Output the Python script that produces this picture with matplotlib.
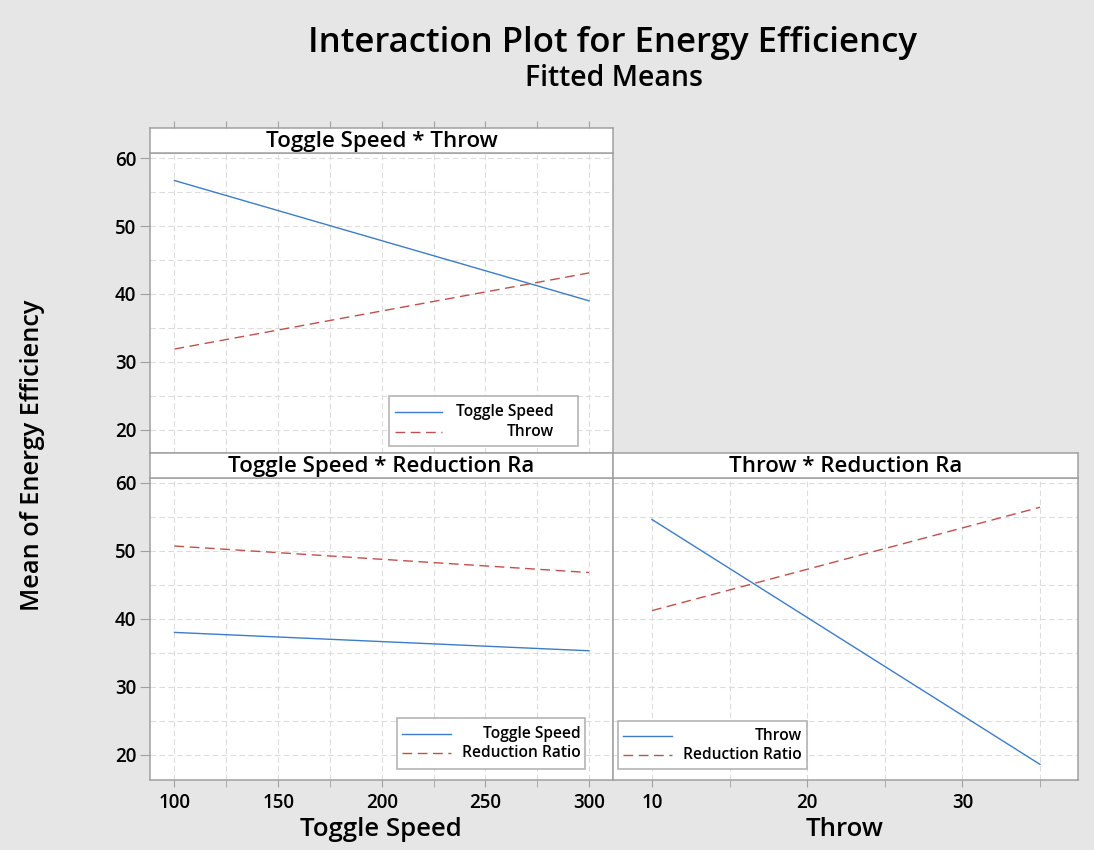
import matplotlib
matplotlib.use('Agg')
from matplotlib import pyplot as plt
from matplotlib.patches import Rectangle
from matplotlib.ticker import MultipleLocator

W, H = 1094, 850

# fitted means (low / high level of the x factor)
speed_levels = [100, 300]
throw_levels = [10, 35]

# Toggle Speed * Throw
ts_speed = [56.7, 39.0]
ts_throw = [31.9, 43.1]

# Toggle Speed * Reduction Ra
tr_speed = [38.0, 35.3]
tr_ratio = [50.7, 46.8]

# Throw * Reduction Ra
hr_throw = [54.6, 18.6]
hr_ratio = [41.2, 56.4]

speed_ticks = [100, 150, 200, 250, 300]
throw_ticks = [10, 20, 30]
y_ticks = [20, 30, 40, 50, 60]

blue = '#3D7CC9'
red = '#C0504D'
edge = '#A0A0A0'
grid_col = '#DCDCDC'
font = 'Open Sans'

plt.rcParams['font.family'] = [font, 'DejaVu Sans']

fig = plt.figure(figsize=(W / 100, H / 100), dpi=100, facecolor='#E6E6E6')


def px_box(x0, y0, x1, y1):
    # reference pixel box -> figure fraction [left, bottom, width, height]
    return [x0 / W, 1 - y1 / H, (x1 - x0) / W, (y1 - y0) / H]


def make_panel(box, strip, title, xlim, ylim, xstep, xmajor, show_y=True, show_x=True):
    ax = fig.add_axes(px_box(*box))
    ax.set_facecolor('white')
    ax.set_xlim(*xlim)
    ax.set_ylim(*ylim)
    ax.set_xticks(xmajor)
    ax.xaxis.set_minor_locator(MultipleLocator(xstep))
    ax.set_yticks(y_ticks)
    ax.yaxis.set_minor_locator(MultipleLocator(5))
    ax.grid(True, which='both', color=grid_col, lw=0.8, ls=(0, (5, 3)))
    ax.set_axisbelow(True)
    for s in ax.spines.values():
        s.set_color(edge)
        s.set_linewidth(1.1)
    ax.tick_params(axis='x', which='both', length=5, color=edge, labelsize=13.5, pad=4)
    ax.tick_params(axis='y', which='major', length=7, color=edge, labelsize=13.5, pad=3)
    ax.tick_params(axis='y', which='minor', length=0)
    for lab in ax.get_xticklabels() + ax.get_yticklabels():
        lab.set_fontweight('semibold')
    if not show_y:
        ax.tick_params(axis='y', which='both', length=0, labelleft=False)
    if not show_x:
        ax.tick_params(axis='x', which='both', labelbottom=False, length=0)

    sax = fig.add_axes(px_box(*strip))
    sax.set_facecolor('white')
    sax.set_xlim(*xlim)
    sax.set_yticks([])
    sax.set_xticks([])
    for s in sax.spines.values():
        s.set_color(edge)
        s.set_linewidth(1.1)
    sax.text(0.5, 0.45, title, transform=sax.transAxes, ha='center', va='center',
             fontsize=16, fontweight='semibold')
    return ax, sax


def add_legend(box, hx, text_right, rows):
    x0, y0, x1, y1 = box
    fig.add_artist(Rectangle((x0 / W, 1 - y1 / H), (x1 - x0) / W, (y1 - y0) / H,
                             transform=fig.transFigure, fc='white', ec='#B4B4B4', lw=1.2))
    for label, color, ls, y in rows:
        fig.add_artist(plt.Line2D([hx[0] / W, hx[1] / W], [1 - y / H, 1 - y / H],
                                  transform=fig.transFigure, color=color, ls=ls, lw=1.0))
        fig.text(text_right / W, 1 - y / H, label, ha='right', va='center',
                 fontsize=11.2, fontweight='semibold')


speed_lim = (88.2, 311.6)
throw_lim = (7.49, 37.45)

# top left
ax1, sax1 = make_panel((150, 153, 613, 453), (150, 128, 613, 153), 'Toggle Speed * Throw',
                       speed_lim, (16.6, 60.75), 25, speed_ticks, show_x=False)
sax1.set_xticks(range(100, 301, 25))
sax1.tick_params(axis='x', top=True, bottom=False, labelbottom=False, length=5, color=edge)
ax1.plot(speed_levels, ts_speed, color=blue, lw=1.0)
ax1.plot(speed_levels, ts_throw, color=red, lw=1.0, ls=(0, (7, 4)))

# bottom left
ax2, sax2 = make_panel((150, 478, 613, 780), (150, 453, 613, 478), 'Toggle Speed * Reduction Ra',
                       speed_lim, (16.3, 60.7), 25, speed_ticks)
ax2.plot(speed_levels, tr_speed, color=blue, lw=1.0)
ax2.plot(speed_levels, tr_ratio, color=red, lw=1.0, ls=(0, (7, 4)))

# bottom right
ax3, sax3 = make_panel((613, 478, 1078, 780), (613, 453, 1078, 478), 'Throw * Reduction Ra',
                       throw_lim, (16.3, 60.7), 5, throw_ticks, show_y=False)
ax3.plot(throw_levels, hr_throw, color=blue, lw=1.0)
ax3.plot(throw_levels, hr_ratio, color=red, lw=1.0, ls=(0, (7, 4)))

add_legend((389, 396, 578, 446), (395, 442), 554,
           [('Toggle Speed', blue, '-', 412), ('Throw', red, (0, (7, 4)), 432)])
add_legend((397, 718, 585, 769), (402, 451), 581,
           [('Toggle Speed', blue, '-', 734), ('Reduction Ratio', red, (0, (7, 4)), 753)])
add_legend((618, 721, 807, 769), (623, 672), 802,
           [('Throw', blue, '-', 736), ('Reduction Ratio', red, (0, (7, 4)), 755)])

# titles and axis labels
fig.text(613 / W, 1 - 43 / H, 'Interaction Plot for Energy Efficiency', ha='center', va='center',
         fontsize=25, fontweight='semibold')
fig.text(614 / W, 1 - 79 / H, 'Fitted Means', ha='center', va='center',
         fontsize=20.5, fontweight='semibold')
fig.text(33 / W, 1 - 455 / H, 'Mean of Energy Efficiency', rotation=90, ha='center', va='center',
         fontsize=18.2, fontweight='semibold')
fig.text(381 / W, 1 - 829 / H, 'Toggle Speed', ha='center', va='center',
         fontsize=18.5, fontweight='semibold')
fig.text(845 / W, 1 - 829 / H, 'Throw', ha='center', va='center',
         fontsize=18.5, fontweight='semibold')

fig.savefig('out.png', dpi=100, facecolor=fig.get_facecolor())
